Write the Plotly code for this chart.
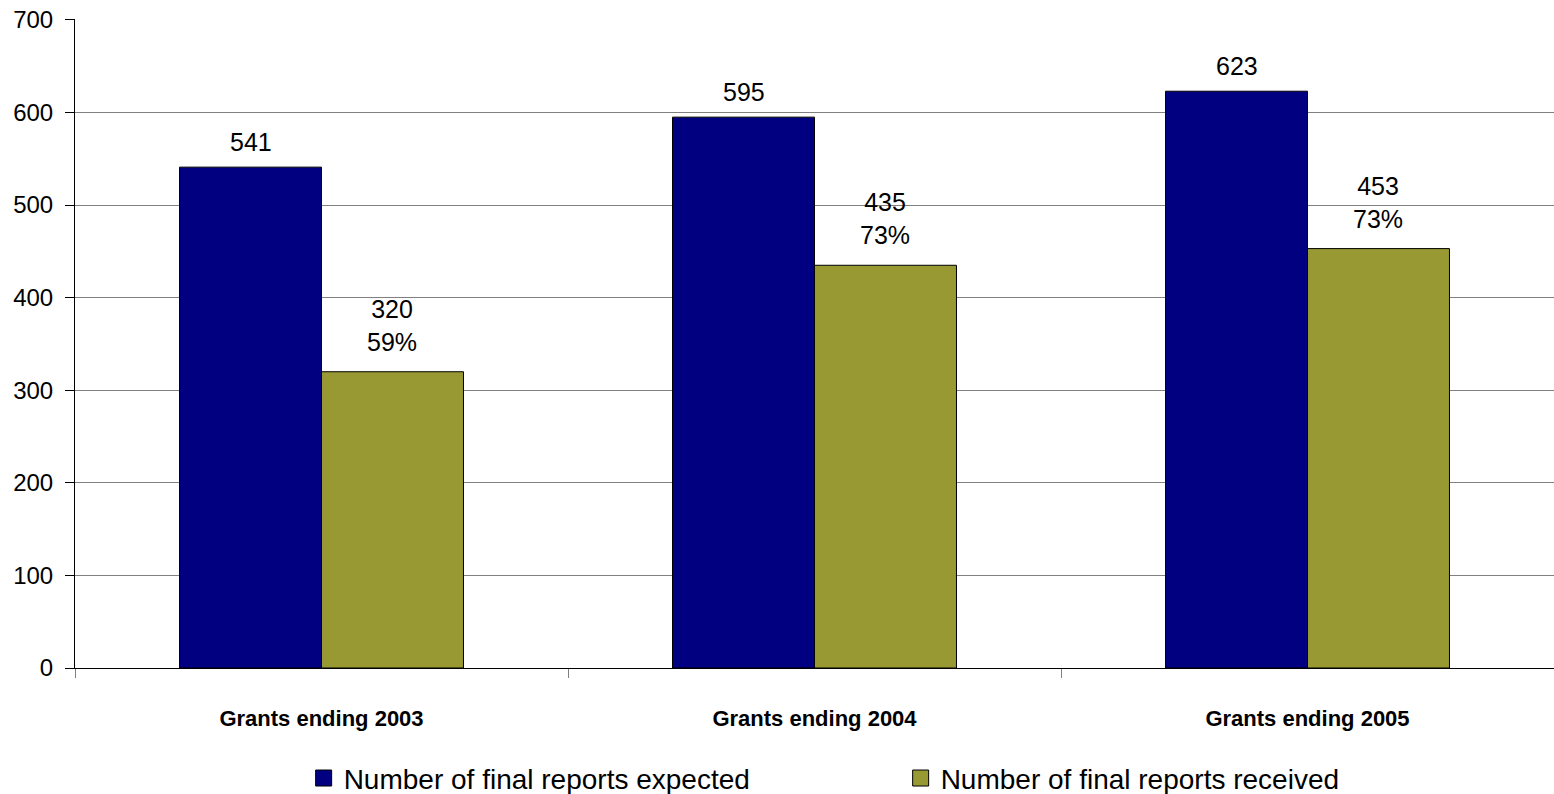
import plotly.graph_objects as go

categories = ["Grants ending 2003", "Grants ending 2004", "Grants ending 2005"]
expected = [541, 595, 623]
received = [320, 435, 453]
received_pct = ["59%", "73%", "73%"]
y_ticks = [0, 100, 200, 300, 400, 500, 600, 700]
series_names = ["Number of final reports expected", "Number of final reports received"]
series_colors = ["#000080", "#999933"]

FONT = "Liberation Sans, Arial, sans-serif"
BARGAP = 0.424
HALF = (1 - BARGAP) / 4  # offset of each bar centre from category centre (category units)

fig = go.Figure()
fig.add_trace(go.Bar(
    x=categories, y=expected, name=series_names[0], showlegend=False,
    marker=dict(color=series_colors[0], line=dict(color="black", width=1)),
))
fig.add_trace(go.Bar(
    x=categories, y=received, name=series_names[1], showlegend=False,
    marker=dict(color=series_colors[1], line=dict(color="black", width=1)),
))
# legend entries with larger square symbols
for name, col in zip(series_names, series_colors):
    fig.add_trace(go.Scatter(
        x=[None], y=[None], mode="markers", name=name,
        marker=dict(symbol="square", size=17, color=col, line=dict(color="black", width=1)),
    ))

annotations = []
for i, v in enumerate(expected):
    annotations.append(dict(x=i - HALF, y=v, xref="x", yref="y", text=str(v),
                            showarrow=False, yanchor="bottom", yshift=9,
                            font=dict(family=FONT, size=25, color="black")))
for i, (v, p) in enumerate(zip(received, received_pct)):
    annotations.append(dict(x=i + HALF, y=v, xref="x", yref="y", text=f"{v}<br>{p}",
                            showarrow=False, yanchor="bottom", yshift=14,
                            font=dict(family=FONT, size=25, color="black")))

fig.update_layout(
    width=1554, height=794,
    margin=dict(l=75, r=0, t=19, b=126, autoexpand=False),
    plot_bgcolor="white", paper_bgcolor="white",
    barmode="group", bargap=BARGAP, bargroupgap=0,
    font=dict(family=FONT, size=24, color="black"),
    showlegend=True,
    annotations=annotations,
    legend=dict(orientation="h", x=0.1546, xanchor="left", y=-0.17, yanchor="middle",
                entrywidth=552, entrywidthmode="pixels", itemsizing="trace",
                font=dict(family=FONT, size=28, color="black"),
                itemwidth=30, traceorder="normal"),
)
fig.update_xaxes(
    type="category", tickson="boundaries", ticks="outside", ticklen=9, tickcolor="#808080",
    showline=True, linecolor="black", linewidth=1,
    tickfont=dict(family=FONT, size=22, color="black", weight="bold"),
    ticklabelstandoff=31,
    showgrid=False, range=[-0.5, 2.5],
)
fig.update_yaxes(
    range=[0, 701], tickvals=y_ticks, ticks="outside", ticklen=9, tickcolor="black",
    showline=True, linecolor="black", linewidth=1,
    showgrid=True, gridcolor="#808080", gridwidth=1,
    zeroline=False, ticklabelstandoff=7, ticklabeloverflow="allow",
    tickfont=dict(family=FONT, size=24, color="black"),
)

fig.write_html("out.html", config={"displayModeBar": False},
               post_script="document.body.style.margin='0';document.body.style.overflow='hidden';")
